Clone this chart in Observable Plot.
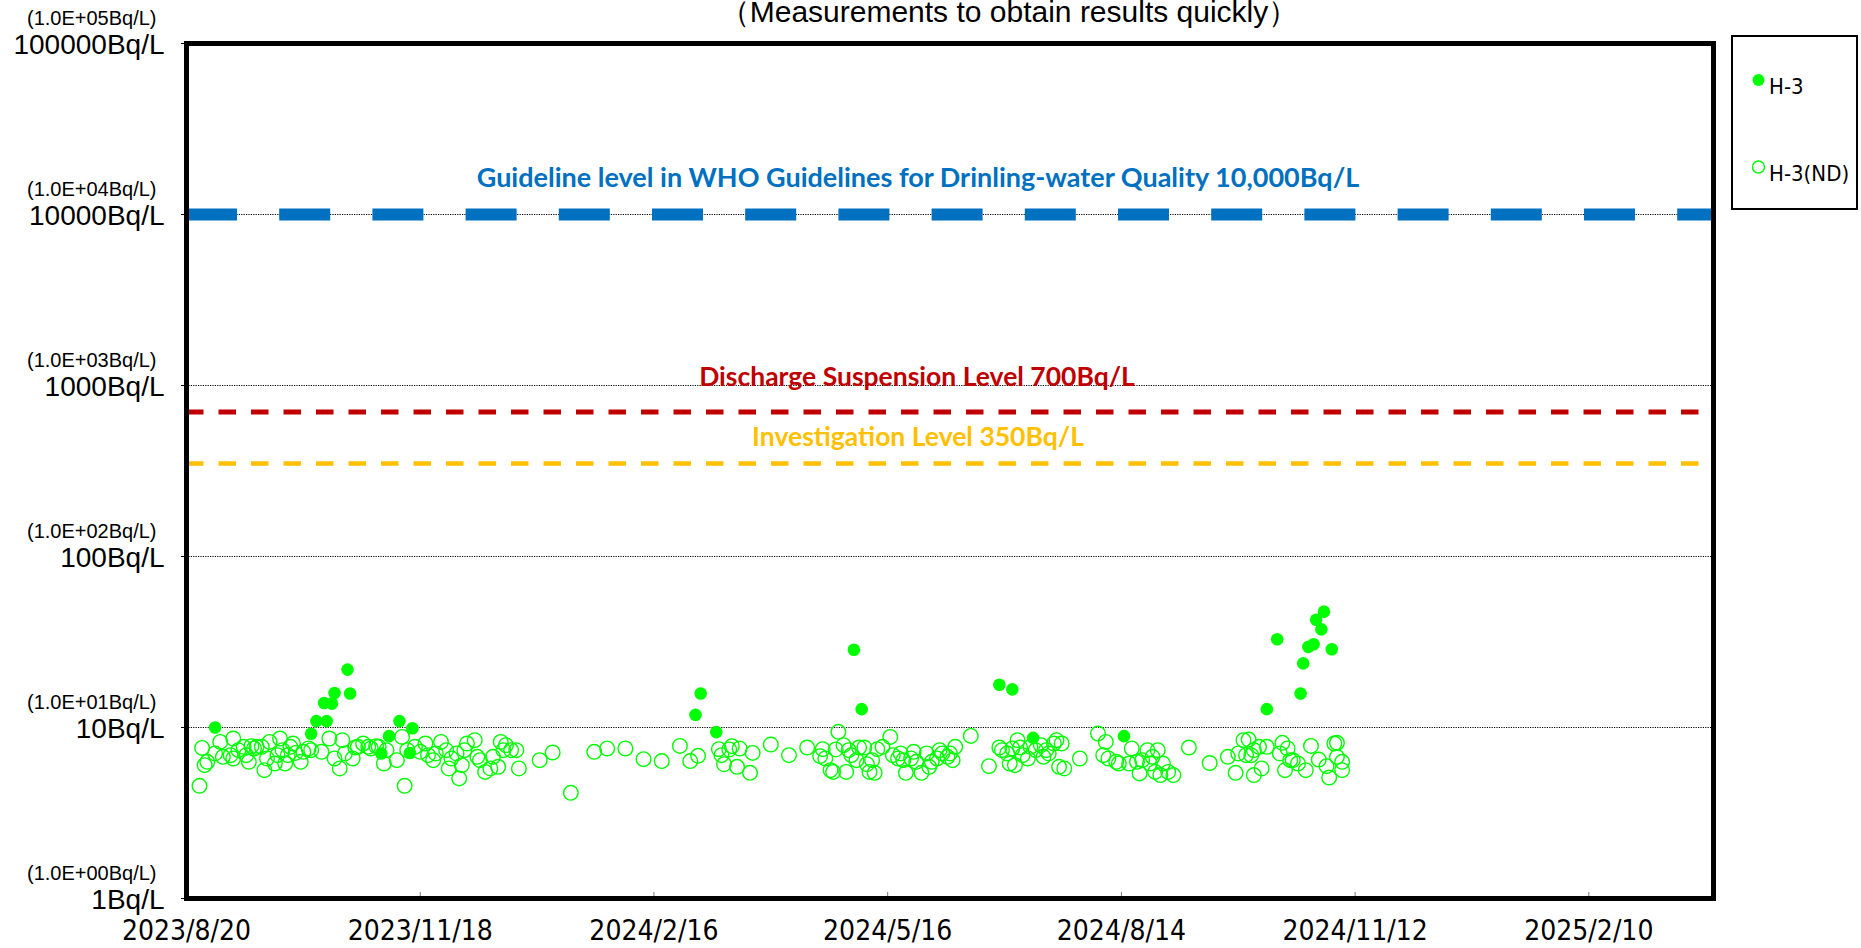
<!DOCTYPE html>
<html>
<head>
<meta charset="utf-8">
<script src="https://cdn.jsdelivr.net/npm/d3@7"></script>
<script src="https://cdn.jsdelivr.net/npm/@observablehq/plot@0.6"></script>
<style>
  html, body { margin: 0; padding: 0; background: #fff; }
  #wrap { position: relative; width: 1861px; height: 948px; overflow: hidden; }
  #title { position: absolute; left: 0; width: 2018px; top: -8px; text-align: center;
           font-family: "Liberation Sans", sans-serif; font-size: 30px; color: #000; white-space: nowrap; }
  #legend { position: absolute; left: 1731px; top: 35px; width: 127px; height: 175px;
            border: 2px solid #000; box-sizing: border-box; background: #fff; }
</style>
</head>
<body>
<div id="wrap">
  <div id="chart"></div>
  <div id="title">（Measurements to obtain results quickly）</div>
  <div id="legend"></div>
</div>
<script>
// ---- axis ticks and labels ----
const xTickLabels = ["2023/8/20", "2023/11/18", "2024/2/16", "2024/5/16", "2024/8/14", "2024/11/12", "2025/2/10"];
const xDomainLabels = ["2023/8/20", "2025/3/30"];
const yTicks = [1, 10, 100, 1000, 10000, 100000];
const yTickLabels = ["1Bq/L", "10Bq/L", "100Bq/L", "1000Bq/L", "10000Bq/L", "100000Bq/L"];
const ySubLabels = ["(1.0E+00Bq/L)", "(1.0E+01Bq/L)", "(1.0E+02Bq/L)", "(1.0E+03Bq/L)", "(1.0E+04Bq/L)", "(1.0E+05Bq/L)"];
const gridValues = [10, 100, 1000, 10000];

// ---- reference levels ----
const whoLevel = 10000;
const whoLabel = "Guideline level in WHO Guidelines for Drinling-water Quality 10,000Bq/L";
const dischargeLevel = 700;
const dischargeLabel = "Discharge Suspension Level 700Bq/L";
const investigationLevel = 350;
const investigationLabel = "Investigation Level 350Bq/L";

// ---- H-3 detected (filled) ----
const h3Dates = ["2023-08-31","2023-10-07","2023-10-09","2023-10-12","2023-10-13","2023-10-15","2023-10-16","2023-10-21","2023-10-22",
  "2023-11-03","2023-11-06","2023-11-10","2023-11-14","2023-11-15","2024-03-03","2024-03-05","2024-03-11","2024-05-03","2024-05-06",
  "2024-06-28","2024-07-03","2024-07-11","2024-08-15","2024-10-09","2024-10-13","2024-10-22","2024-10-23","2024-10-25","2024-10-27",
  "2024-10-28","2024-10-30","2024-10-31","2024-11-03"];
const h3Values = [10.0, 9.2, 10.9, 13.9, 10.9, 13.8, 15.9, 21.8, 15.8,
  7.05, 8.9, 10.9, 7.1, 9.9, 11.85, 15.8, 9.4, 28.5, 12.8,
  17.8, 16.7, 8.7, 8.9, 12.8, 32.8, 15.8, 23.7, 29.6, 30.7,
  42.7, 37.5, 47.6, 28.7];

// ---- H-3 not detected (open), detection limit ----
const ndDates = ["2023-08-25","2023-08-26","2023-08-27","2023-08-28","2023-08-31","2023-09-02","2023-09-03","2023-09-06","2023-09-07","2023-09-07",
  "2023-09-09","2023-09-11","2023-09-12","2023-09-13","2023-09-14","2023-09-15","2023-09-16","2023-09-18","2023-09-19","2023-09-20",
  "2023-09-21","2023-09-23","2023-09-24","2023-09-25","2023-09-26","2023-09-27","2023-09-28","2023-09-29","2023-09-30","2023-10-01",
  "2023-10-03","2023-10-04","2023-10-06","2023-10-07","2023-10-11","2023-10-14","2023-10-16","2023-10-18","2023-10-19","2023-10-20",
  "2023-10-23","2023-10-24","2023-10-25","2023-10-27","2023-10-29","2023-10-30","2023-11-01","2023-11-02","2023-11-04","2023-11-05",
  "2023-11-09","2023-11-11","2023-11-12","2023-11-13","2023-11-16","2023-11-18","2023-11-20","2023-11-21","2023-11-23","2023-11-24",
  "2023-11-26","2023-11-28","2023-11-29","2023-11-30","2023-12-02","2023-12-03","2023-12-04","2023-12-05","2023-12-06","2023-12-09",
  "2023-12-10","2023-12-11","2023-12-13","2023-12-15","2023-12-16","2023-12-18","2023-12-19","2023-12-20","2023-12-21","2023-12-23",
  "2023-12-25","2023-12-26","2024-01-03","2024-01-08","2024-01-15","2024-01-24","2024-01-29","2024-02-05","2024-02-12","2024-02-19",
  "2024-02-26","2024-03-01","2024-03-04","2024-03-12","2024-03-13","2024-03-14","2024-03-16","2024-03-17","2024-03-19","2024-03-20",
  "2024-03-24","2024-03-25","2024-04-01","2024-04-08","2024-04-15","2024-04-20","2024-04-21","2024-04-22","2024-04-24","2024-04-25",
  "2024-04-26","2024-04-27","2024-04-29","2024-04-30","2024-05-01","2024-05-02","2024-05-04","2024-05-05","2024-05-07","2024-05-08",
  "2024-05-09","2024-05-10","2024-05-11","2024-05-12","2024-05-14","2024-05-17","2024-05-18","2024-05-20","2024-05-21","2024-05-22",
  "2024-05-23","2024-05-25","2024-05-26","2024-05-27","2024-05-29","2024-05-31","2024-06-01","2024-06-02","2024-06-04","2024-06-05",
  "2024-06-06","2024-06-08","2024-06-09","2024-06-10","2024-06-11","2024-06-17","2024-06-24","2024-06-28","2024-06-29","2024-07-01",
  "2024-07-02","2024-07-03","2024-07-04","2024-07-05","2024-07-06","2024-07-07","2024-07-09","2024-07-10","2024-07-12","2024-07-14",
  "2024-07-15","2024-07-16","2024-07-17","2024-07-19","2024-07-20","2024-07-21","2024-07-22","2024-07-23","2024-07-29","2024-08-05",
  "2024-08-07","2024-08-08","2024-08-09","2024-08-12","2024-08-13","2024-08-17","2024-08-18","2024-08-20","2024-08-21","2024-08-22",
  "2024-08-24","2024-08-25","2024-08-26","2024-08-27","2024-08-28","2024-08-29","2024-08-30","2024-09-01","2024-09-03","2024-09-09",
  "2024-09-17","2024-09-24","2024-09-27","2024-09-28","2024-09-30","2024-10-01","2024-10-02","2024-10-03","2024-10-04","2024-10-04",
  "2024-10-06","2024-10-07","2024-10-09","2024-10-14","2024-10-15","2024-10-16","2024-10-17","2024-10-18","2024-10-19","2024-10-21",
  "2024-10-24","2024-10-26","2024-10-29","2024-11-01","2024-11-02","2024-11-04","2024-11-05","2024-11-05","2024-11-07","2024-11-07"];
const ndValues = [4.56, 7.6, 6.02, 6.3, 7.05, 8.24, 6.74, 6.89, 6.59, 8.62,
  7.37, 7.71, 6.89, 6.30, 7.78, 7.54, 7.71, 7.71, 5.63, 6.59,
  8.24, 6.16, 6.89, 8.62, 7.37, 6.16, 6.89, 7.71, 8.06, 7.1,
  6.30, 7.21, 7.54, 7.37, 7.21, 8.62, 6.59, 5.76, 8.43, 7.05,
  6.59, 7.64, 7.71, 8.06, 7.71, 7.54, 7.78, 7.71, 6.16, 7.37,
  6.44, 8.81, 4.56, 7.37, 7.71, 7.21, 8.06, 6.89, 6.44, 7.05,
  8.24, 7.37, 5.76, 6.59, 7.05, 5.04, 6.02, 7.37, 8.06, 8.43,
  6.74, 6.44, 5.50, 5.76, 6.74, 5.89, 8.24, 7.37, 7.88, 7.37,
  7.37, 5.76, 6.44, 7.14, 4.15, 7.21, 7.54, 7.54, 6.53, 6.36,
  7.8, 6.36, 6.83, 7.47, 6.89, 6.1, 7.44, 7.78, 5.89, 7.54,
  5.43, 7.1, 7.95, 6.89, 7.64, 6.80, 7.47, 6.59, 5.63, 5.50,
  7.44, 9.43, 7.88, 5.50, 7.37, 6.89, 6.44, 7.64, 7.64, 6.10,
  5.50, 6.44, 5.43, 7.47, 7.71, 8.81, 6.89, 6.59, 7.05, 6.44,
  5.43, 6.59, 7.21, 6.30, 5.43, 7.05, 5.89, 6.30, 6.59, 7.37,
  7.05, 6.74, 7.05, 6.44, 7.71, 8.93, 5.94, 7.64, 7.37, 7.05,
  6.16, 7.54, 6.02, 8.43, 7.64, 6.89, 6.59, 7.71, 7.37, 7.88,
  6.74, 7.37, 7.05, 8.06, 8.43, 5.89, 8.06, 5.76, 6.59, 9.22,
  6.89, 8.24, 6.59, 6.30, 6.16, 6.16, 7.54, 6.30, 5.39, 6.44,
  7.37, 6.16, 6.74, 5.50, 7.37, 5.27, 6.16, 5.50, 5.27, 7.64,
  6.2, 6.74, 5.43, 7.05, 8.43, 6.89, 8.5, 6.89, 7.37, 5.27,
  7.71, 5.76, 7.71, 7.05, 8.13, 5.63, 7.54, 6.44, 6.44, 6.16,
  5.63, 7.8, 6.49, 5.94, 5.1, 8.06, 8.13, 6.74, 5.63, 6.30];

// ---- build tables ----
const parseISO = d3.utcParse("%Y-%m-%d");
const parseSlash = s => { const [y, m, d] = s.split("/").map(Number); return new Date(Date.UTC(y, m - 1, d)); };
const xTicks = xTickLabels.map(parseSlash);
const xDomain = xDomainLabels.map(parseSlash);
const detected = h3Dates.map((d, i) => ({date: parseISO(d), value: h3Values[i]}));
const notDetected = ndDates.map((d, i) => ({date: parseISO(d), value: ndValues[i]}));

const GREEN = "#00FF00";
const condensed = "'DejaVu Sans Condensed', 'DejaVu Sans', sans-serif";
const regular = "'Liberation Sans', Arial, sans-serif";
const calibriLike = "Lato, 'Open Sans', sans-serif";

const chart = Plot.plot({
  width: 1861,
  height: 948,
  marginLeft: 186,
  marginRight: 148,
  marginTop: 43,
  marginBottom: 50,
  style: {background: "#fff", overflow: "visible"},
  x: {type: "utc", domain: xDomain, axis: null},
  y: {type: "log", domain: [1, 100000], axis: null},
  marks: [
    Plot.ruleY(gridValues, {stroke: "#000", strokeWidth: 1, strokeDasharray: "1.2,1.2"}),
    Plot.ruleY([whoLevel], {stroke: "#0070C0", strokeWidth: 12, strokeDasharray: "51,42.2"}),
    Plot.ruleY([dischargeLevel], {stroke: "#C00000", strokeWidth: 5, strokeDasharray: "17.5,15"}),
    Plot.ruleY([investigationLevel], {stroke: "#FFC000", strokeWidth: 4.5, strokeDasharray: "17.5,15"}),
    Plot.text([whoLevel], {y: d => d, text: () => whoLabel, fill: "#0070C0", dx: -32, dy: -36,
      fontFamily: calibriLike, fontWeight: "bold", fontSize: 27}),
    Plot.text([dischargeLevel], {y: d => d, text: () => dischargeLabel, fill: "#C00000", dx: -33, dy: -34,
      fontFamily: calibriLike, fontWeight: "bold", fontSize: 26.5}),
    Plot.text([investigationLevel], {y: d => d, text: () => investigationLabel, fill: "#FFC000", dx: -32, dy: -26,
      fontFamily: calibriLike, fontWeight: "bold", fontSize: 26.5}),
    Plot.dot(notDetected, {x: "date", y: "value", r: 7.3, stroke: GREEN, strokeWidth: 1.4, fill: "none"}),
    Plot.dot(detected, {x: "date", y: "value", r: 6.3, fill: GREEN, stroke: "none"}),
    Plot.tickX(xTicks, {x: d => d, insetTop: 849, stroke: "#777", strokeWidth: 1}),
    Plot.axisY(yTicks, {tickSize: 5, tickFormat: () => "", stroke: "#000", label: null}),
    Plot.frame({stroke: "#000", strokeWidth: 5}),
    Plot.text(yTicks, {y: d => d, text: (d, i) => yTickLabels[i], frameAnchor: "left", textAnchor: "end",
      dx: -22, dy: 2, fontSize: 28, fontFamily: regular, fill: "#000"}),
    Plot.text(yTicks, {y: d => d, text: (d, i) => ySubLabels[i], frameAnchor: "left", textAnchor: "end",
      dx: -30, dy: -25, fontSize: 20, fontFamily: regular, fill: "#000"}),
    Plot.text(xTicks, {x: d => d, text: (d, i) => xTickLabels[i], frameAnchor: "bottom",
      dy: 41, fontSize: 28, fontFamily: condensed, fill: "#000"})
  ]
});
document.getElementById("chart").appendChild(chart);

// ---- legend ----
const legendItems = [{label: "H-3", filled: true}, {label: "H-3(ND)", filled: false}];
const lg = d3.select("#legend").append("svg").attr("width", 123).attr("height", 171);
legendItems.forEach((it, i) => {
  const cy = i === 0 ? 43 : 130;
  lg.append("circle").attr("cx", 25.5).attr("cy", cy).attr("r", 6)
    .attr("fill", it.filled ? GREEN : "none").attr("stroke", GREEN).attr("stroke-width", it.filled ? 0 : 1.4);
  lg.append("text").attr("x", 36).attr("y", cy + 14).text(it.label)
    .attr("font-family", condensed).attr("font-size", 22).attr("fill", "#000");
});
</script>
</body>
</html>
